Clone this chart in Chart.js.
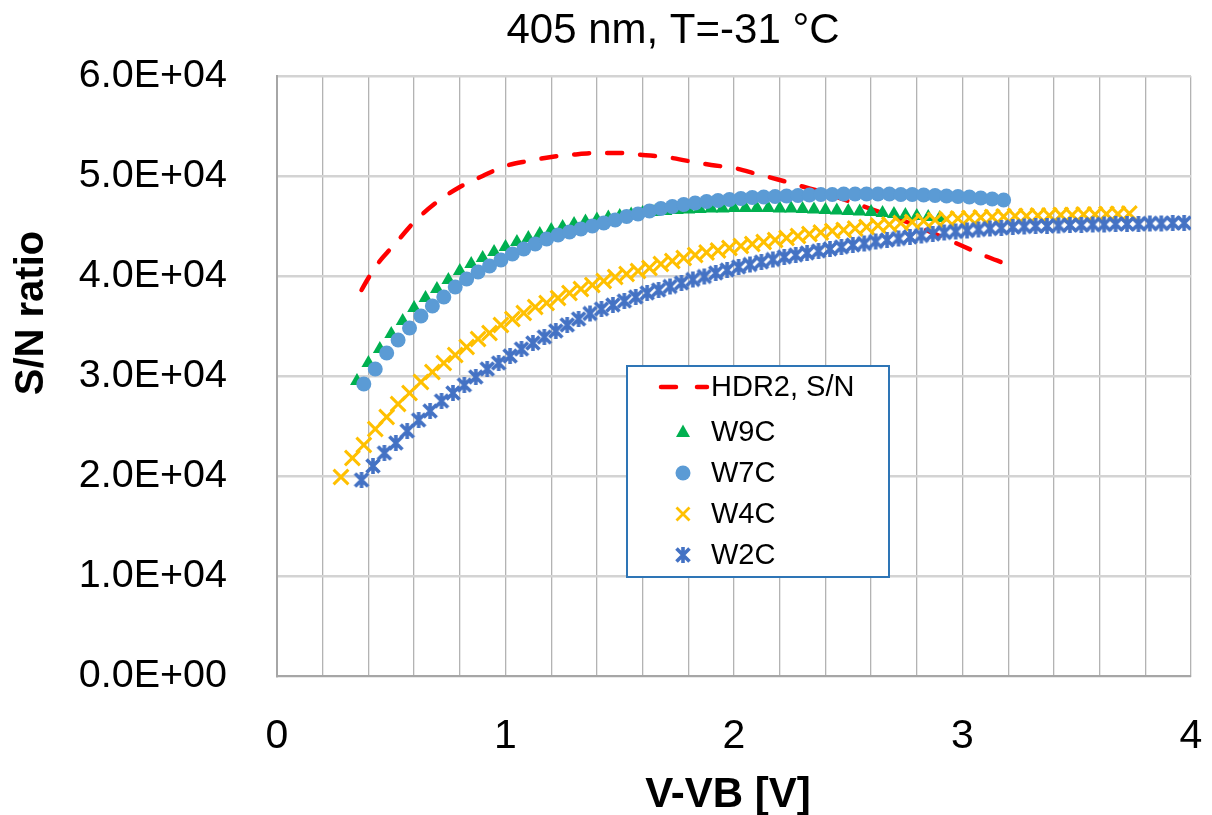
<!DOCTYPE html>
<html>
<head>
<meta charset="utf-8">
<title>405 nm, T=-31 °C</title>
<script src="https://cdn.jsdelivr.net/npm/chart.js@4.4.1/dist/chart.umd.min.js"></script>
<style>
  html, body { margin: 0; padding: 0; background: #fff; }
  #wrap { width: 1212px; height: 815px; }
</style>
</head>
<body>
<div id="wrap"><canvas id="snChart" width="1212" height="815"></canvas></div>
<script>
"use strict"

// HDR2 reference curve (dashed line)
var hdrV = [0.37, 0.40, 0.45, 0.50, 0.55, 0.60, 0.70, 0.80, 0.90, 1.00, 1.10, 1.20, 1.30, 1.40, 1.50, 1.60,
  1.70, 1.80, 1.90, 2.00, 2.10, 2.20, 2.30, 2.40, 2.50, 2.60, 2.70, 2.80, 2.90, 3.00, 3.10, 3.18];
var hdrSN = [38600, 39800, 41500, 42800, 44100, 45400, 47400, 48900, 50000, 51000, 51500, 51900, 52150, 52300, 52300, 52100,
  51900, 51500, 51100, 50800, 50200, 49600, 48950, 48300, 47500, 46700, 45900, 45000, 44000, 43000, 42000, 41300];

var w9cV = [0.35, 0.40, 0.45, 0.50, 0.55, 0.60, 0.65, 0.70, 0.75, 0.80,
  0.85, 0.90, 0.95, 1.00, 1.05, 1.10, 1.15, 1.20, 1.25, 1.30,
  1.35, 1.40, 1.45, 1.50, 1.55, 1.60, 1.65, 1.70, 1.75, 1.80,
  1.85, 1.90, 1.95, 2.00, 2.05, 2.10, 2.15, 2.20, 2.25, 2.30,
  2.35, 2.40, 2.45, 2.50, 2.55, 2.60, 2.65, 2.70, 2.75, 2.80,
  2.85, 2.90];
var w9cSN = [29500, 31300, 32700, 34200, 35500, 36800, 37800, 38700, 39600, 40500,
  41200, 41800, 42400, 42900, 43400, 43800, 44200, 44600, 44900, 45200,
  45450, 45650, 45850, 46000, 46150, 46300, 46400, 46500, 46600, 46650,
  46700, 46750, 46750, 46800, 46800, 46800, 46800, 46750, 46750, 46700,
  46650, 46600, 46550, 46500, 46450, 46400, 46300, 46200, 46100, 46000,
  45900, 45800];

var w7cV = [0.38, 0.43, 0.48, 0.53, 0.58, 0.63, 0.68, 0.73, 0.78, 0.83,
  0.88, 0.93, 0.98, 1.03, 1.08, 1.13, 1.18, 1.23, 1.28, 1.33,
  1.38, 1.43, 1.48, 1.53, 1.58, 1.63, 1.68, 1.73, 1.78, 1.83,
  1.88, 1.93, 1.98, 2.03, 2.08, 2.13, 2.18, 2.23, 2.28, 2.33,
  2.38, 2.43, 2.48, 2.53, 2.58, 2.63, 2.68, 2.73, 2.78, 2.83,
  2.88, 2.93, 2.98, 3.03, 3.08, 3.13, 3.18];
var w7cSN = [29200, 30700, 32300, 33600, 34800, 36000, 37000, 37900, 38900, 39700,
  40400, 41000, 41600, 42200, 42700, 43200, 43700, 44100, 44400, 44700,
  45000, 45300, 45600, 45950, 46200, 46500, 46750, 46950, 47150, 47300,
  47450, 47550, 47650, 47750, 47850, 47900, 47950, 48000, 48050, 48100,
  48150, 48150, 48200, 48200, 48200, 48200, 48200, 48150, 48150, 48100,
  48050, 48000, 47950, 47900, 47800, 47700, 47600];

var w4cV = [0.28, 0.33, 0.38, 0.43, 0.48, 0.53, 0.58, 0.63, 0.68, 0.73,
  0.78, 0.83, 0.88, 0.93, 0.98, 1.03, 1.08, 1.13, 1.18, 1.23,
  1.28, 1.33, 1.38, 1.43, 1.48, 1.53, 1.58, 1.63, 1.68, 1.73,
  1.78, 1.83, 1.88, 1.93, 1.98, 2.03, 2.08, 2.13, 2.18, 2.23,
  2.28, 2.33, 2.38, 2.43, 2.48, 2.53, 2.58, 2.63, 2.68, 2.73,
  2.78, 2.83, 2.88, 2.93, 2.98, 3.03, 3.08, 3.13, 3.18, 3.23,
  3.28, 3.33, 3.38, 3.43, 3.48, 3.53, 3.58, 3.63, 3.68, 3.73];
var w4cSN = [19900, 21800, 23100, 24700, 25900, 27200, 28300, 29400, 30400, 31300,
  32100, 32900, 33700, 34300, 35100, 35700, 36300, 36900, 37300, 37800,
  38300, 38700, 39100, 39500, 39900, 40200, 40500, 40800, 41200, 41500,
  41800, 42100, 42350, 42550, 42800, 43000, 43200, 43400, 43600, 43800,
  44000, 44200, 44350, 44500, 44600, 44750, 44900, 45050, 45150, 45300,
  45400, 45500, 45600, 45700, 45750, 45800, 45850, 45900, 45950, 46000,
  46000, 46050, 46050, 46100, 46100, 46150, 46150, 46200, 46200, 46250];

var w2cV = [0.37, 0.42, 0.47, 0.52, 0.57, 0.62, 0.67, 0.72, 0.77, 0.82,
  0.87, 0.92, 0.97, 1.02, 1.07, 1.12, 1.17, 1.22, 1.27, 1.32,
  1.37, 1.42, 1.47, 1.52, 1.57, 1.62, 1.67, 1.72, 1.77, 1.82,
  1.87, 1.92, 1.97, 2.02, 2.07, 2.12, 2.17, 2.22, 2.27, 2.32,
  2.37, 2.42, 2.47, 2.52, 2.57, 2.62, 2.67, 2.72, 2.77, 2.82,
  2.87, 2.92, 2.97, 3.02, 3.07, 3.12, 3.17, 3.22, 3.27, 3.32,
  3.37, 3.42, 3.47, 3.52, 3.57, 3.62, 3.67, 3.72, 3.77, 3.82,
  3.87, 3.92, 3.97];
var w2cSN = [19600, 21000, 22300, 23300, 24500, 25600, 26500, 27500, 28300, 29100,
  29900, 30700, 31300, 32000, 32700, 33300, 33900, 34500, 35100, 35700,
  36250, 36700, 37100, 37500, 37900, 38300, 38600, 38950, 39300, 39650,
  39950, 40300, 40600, 40900, 41150, 41400, 41650, 41900, 42100, 42300,
  42500, 42700, 42900, 43100, 43250, 43450, 43600, 43750, 43900, 44050,
  44200, 44350, 44450, 44550, 44650, 44750, 44800, 44900, 44950, 45000,
  45000, 45050, 45100, 45100, 45150, 45150, 45200, 45200, 45200, 45250,
  45250, 45300, 45300];

var xTicks = [0, 1, 2, 3, 4];
var yTicks = [0, 10000, 20000, 30000, 40000, 50000, 60000];

var FONT = "'Liberation Sans', Arial, sans-serif";

function pts(xs, ys) {
  return xs.map(function(x, i) { return { x: x, y: ys[i] }; });
}

function sci(v) {
  if (v === 0) return "0.0E+00";
  var e = Math.floor(Math.log10(Math.abs(v)));
  var m = v / Math.pow(10, e);
  return m.toFixed(1) + "E" + (e < 0 ? "-" : "+") + String(Math.abs(e)).padStart(2, "0");
}

// excel "star" marker: an x with a vertical bar
function starMarker(color) {
  var c = document.createElement("canvas");
  c.width = 20; c.height = 20;
  var g = c.getContext("2d");
  g.strokeStyle = color;
  g.lineWidth = 3.6;
  g.lineCap = "butt";
  g.beginPath();
  g.moveTo(3.5, 3.5); g.lineTo(16.5, 16.5);
  g.moveTo(16.5, 3.5); g.lineTo(3.5, 16.5);
  g.moveTo(10, 2); g.lineTo(10, 18);
  g.stroke();
  return c;
}
var starImg = starMarker("#4472C4");

var legendItems = [
  { label: "HDR2, S/N", kind: "line", color: "#FF0000" },
  { label: "W9C", kind: "triangle", color: "#00B050" },
  { label: "W7C", kind: "circle", color: "#5B9BD5" },
  { label: "W4C", kind: "crossRot", color: "#FFC000" },
  { label: "W2C", kind: "star", color: "#4472C4" }
];

var textPlugin = {
  id: "textAndLegend",
  afterDraw: function(chart) {
    var ctx = chart.ctx;
    ctx.save();
    ctx.fillStyle = "#000";
    ctx.textAlign = "center";
    ctx.textBaseline = "middle";
    ctx.font = "42px " + FONT;
    ctx.fillText("405 nm, T=-31 °C", 673, 31);
    ctx.font = "bold 42px " + FONT;
    ctx.fillText("V-VB [V]", 728, 795);
    ctx.save();
    ctx.translate(32, 313);
    ctx.rotate(-Math.PI / 2);
    ctx.font = "bold 40px " + FONT;
    ctx.fillText("S/N ratio", 0, 0);
    ctx.restore();

    // legend box
    var bx = 627, by = 366, bw = 262, bh = 211;
    ctx.fillStyle = "#fff";
    ctx.fillRect(bx, by, bw, bh);
    ctx.strokeStyle = "#2E75B6";
    ctx.lineWidth = 2;
    ctx.strokeRect(bx, by, bw, bh);

    var rows = [387, 432, 473, 514, 555];
    ctx.font = "29px " + FONT;
    ctx.textAlign = "left";
    legendItems.forEach(function(it, i) {
      var y = rows[i], mx = 683;
      ctx.fillStyle = it.color;
      ctx.strokeStyle = it.color;
      if (it.kind === "line") {
        ctx.lineWidth = 4.5;
        ctx.lineCap = "round";
        ctx.setLineDash([15, 21]);
        ctx.beginPath();
        ctx.moveTo(661, y); ctx.lineTo(707, y);
        ctx.stroke();
        ctx.setLineDash([]);
      } else if (it.kind === "triangle") {
        ctx.beginPath();
        ctx.moveTo(mx, y - 7.5);
        ctx.lineTo(mx + 7, y + 5);
        ctx.lineTo(mx - 7, y + 5);
        ctx.closePath();
        ctx.fill();
      } else if (it.kind === "circle") {
        ctx.beginPath();
        ctx.arc(mx, y, 7.5, 0, Math.PI * 2);
        ctx.fill();
      } else if (it.kind === "crossRot") {
        ctx.lineWidth = 2.8;
        ctx.lineCap = "butt";
        ctx.beginPath();
        ctx.moveTo(mx - 6.5, y - 6.5); ctx.lineTo(mx + 6.5, y + 6.5);
        ctx.moveTo(mx + 6.5, y - 6.5); ctx.lineTo(mx - 6.5, y + 6.5);
        ctx.stroke();
      } else {
        ctx.drawImage(starImg, mx - 10, y - 10);
      }
      ctx.fillStyle = "#000";
      ctx.fillText(it.label, 711, y + 1);
    });
    ctx.restore();
  }
};

var ctx = document.getElementById("snChart").getContext("2d");
var snChart = new Chart(ctx, {
  type: "scatter",
  data: {
    datasets: [{
      label: "HDR2, S/N",
      data: pts(hdrV, hdrSN),
      showLine: true,
      borderColor: "#FF0000",
      borderWidth: 4.5,
      borderDash: [15, 18],
      borderCapStyle: "round",
      cubicInterpolationMode: "monotone",
      pointRadius: 0,
      order: 5
    }, {
      label: "W9C",
      data: pts(w9cV, w9cSN),
      pointStyle: "triangle",
      pointRadius: 8,
      backgroundColor: "#00B050",
      borderColor: "#00B050",
      pointBorderWidth: 0,
      order: 4
    }, {
      label: "W7C",
      data: pts(w7cV, w7cSN),
      pointStyle: "circle",
      pointRadius: 7.5,
      backgroundColor: "#5B9BD5",
      borderColor: "#5B9BD5",
      pointBorderWidth: 0,
      order: 3
    }, {
      label: "W4C",
      data: pts(w4cV, w4cSN),
      pointStyle: "crossRot",
      pointRadius: 10.5,
      backgroundColor: "#FFC000",
      borderColor: "#FFC000",
      pointBorderWidth: 3,
      order: 2
    }, {
      label: "W2C",
      data: pts(w2cV, w2cSN),
      pointStyle: starImg,
      pointRadius: 10,
      backgroundColor: "#4472C4",
      borderColor: "#4472C4",
      order: 1
    }]
  },
  options: {
    responsive: false,
    animation: false,
    events: [],
    layout: { padding: { top: 76, right: 21, left: 0, bottom: 0 } },
    plugins: {
      legend: { display: false },
      tooltip: { enabled: false },
      title: { display: false }
    },
    scales: {
      x: {
        type: "linear",
        min: 0,
        max: 4,
        afterFit: function(scale) {
          scale.height = 139;
          scale.paddingLeft = 0;
          scale.paddingRight = 0;
        },
        afterBuildTicks: function(scale) {
          var t = [];
          for (var i = 0; i <= 20; i++) t.push({ value: Math.round(i * 2) / 10 });
          scale.ticks = t;
        },
        ticks: {
          autoSkip: false,
          maxRotation: 0,
          padding: 36,
          color: "#000",
          font: { family: FONT, size: 41 },
          callback: function(v) {
            var r = Math.round(v);
            return (Math.abs(v - r) < 1e-6 && xTicks.indexOf(r) >= 0) ? String(r) : "";
          }
        },
        grid: { color: "#B3B3B3", lineWidth: 1.3, drawTicks: false },
        border: { color: "#A6A6A6", width: 2 }
      },
      y: {
        type: "linear",
        min: 0,
        max: 60000,
        afterFit: function(scale) {
          scale.width = 277;
          scale.paddingTop = 0;
          scale.paddingBottom = 0;
        },
        afterBuildTicks: function(scale) {
          scale.ticks = yTicks.map(function(v) { return { value: v }; });
        },
        ticks: {
          padding: 50,
          color: "#000",
          font: { family: FONT, size: 39.5 },
          callback: function(v) { return sci(v); }
        },
        grid: { color: "#D3D3D3", lineWidth: 2.4, drawTicks: false },
        border: { color: "#A6A6A6", width: 2 }
      }
    }
  },
  plugins: [textPlugin]
});
</script>
</body>
</html>
